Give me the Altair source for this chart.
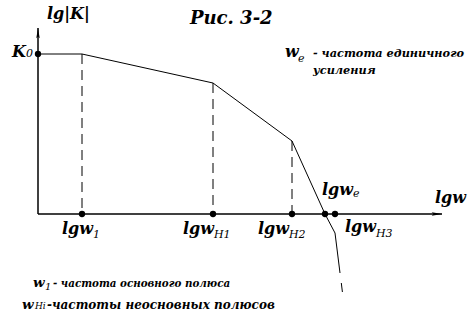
import altair as alt
import pandas as pd

# --- chart values (abstract units: lg w horizontally, lg|K| vertically) ---
curve_x = [0.0, 4.4, 17.5, 25.4, 28.7, 29.7, 30.2]
curve_y = [16.0, 16.0, 13.1, 7.3, 0.0, -1.9, -5.9]
tail_x = [30.33, 30.44]
tail_y = [-6.9, -7.8]
pole_names = ["w1", "wH1", "wH2"]
pole_x = [4.4, 17.5, 25.4]
pole_y = [16.0, 13.1, 7.3]
dot_x = [0.0, 4.4, 17.5, 25.4, 28.7, 29.7]
dot_y = [16.0, 0.0, 0.0, 0.0, 0.0, 0.0]
x_axis_end = 40.4
y_axis_end = 18.6

FONT = "DejaVu Serif"

# text labels: (text, x, y, kind)
labels = [
    ("Рис. 3-2", 15.2, 19.0, "title"),
    ("lg|K|", 0.9, 19.5, "main"),
    ("K", -2.6, 15.7, "main"),
    ("0", -1.2, 15.7, "sub"),
    ("lgw", 2.4, -2.0, "main"),
    ("1", 5.5, -2.4, "sub"),
    ("lgw", 14.5, -2.0, "main"),
    ("H1", 17.6, -2.4, "sub"),
    ("lgw", 22.0, -2.0, "main"),
    ("H2", 25.1, -2.4, "sub"),
    ("lgw", 28.4, 1.9, "main"),
    ("e", 31.5, 1.7, "sub"),
    ("lgw", 30.7, -1.8, "main"),
    ("H3", 33.8, -2.3, "sub"),
    ("lgw", 39.7, 1.1, "main"),
    ("w", 24.7, 15.7, "main"),
    ("e", 26.0, 15.2, "sub"),
    ("- частота единичного", 27.5, 15.7, "note"),
    ("усиления", 27.5, 14.0, "note"),
    ("w", -0.5, -7.3, "wsmall"),
    ("1", 0.7, -7.6, "subs"),
    ("- частота основного полюса", 1.5, -7.3, "notes"),
    ("w", -1.6, -9.5, "wsmall"),
    ("Hi", -0.3, -9.5, "subxs"),
    ("-частоты неосновных  полюсов", 0.9, -9.5, "notel"),
]

curve = pd.DataFrame({"x": curve_x, "y": curve_y, "o": range(len(curve_x))})
tail = pd.DataFrame({"x": tail_x, "y": tail_y, "o": range(len(tail_x))})
poles = pd.DataFrame({"name": pole_names, "x": pole_x, "y": pole_y, "y0": [0.0] * 3})
dots = pd.DataFrame({"x": dot_x, "y": dot_y})
axes = pd.DataFrame({"x": [0.0, 0.0], "y": [0.0, 0.0], "x2": [x_axis_end, 0.0], "y2": [0.0, y_axis_end]})
lab = pd.DataFrame(labels, columns=["text", "x", "y", "kind"])

xs = alt.Scale(domain=[-3.8, 43.0], nice=False, zero=False)
ys = alt.Scale(domain=[-11.9, 21.4], nice=False, zero=False)
X = lambda f="x": alt.X(f"{f}:Q", scale=xs, axis=None)
Y = lambda f="y": alt.Y(f"{f}:Q", scale=ys, axis=None)

axis_lines = alt.Chart(axes).mark_rule(color="black", strokeWidth=1.5).encode(
    x=X(), y=Y(), x2="x2:Q", y2="y2:Q")

arrow_len = 1.2  # units (~12 px)
arrows_up = alt.Chart(pd.DataFrame({"x": [0.0], "y": [y_axis_end - arrow_len / 2]})).mark_point(
    shape="M0,-1 L0.28,0.7 L0,0.4 L-0.28,0.7 Z", filled=True, color="black", opacity=1, size=150
).encode(x=X(), y=Y())
arrows_right = alt.Chart(pd.DataFrame({"x": [x_axis_end - arrow_len / 2], "y": [0.0]})).mark_point(
    shape="M1,0 L-0.7,0.28 L-0.4,0 L-0.7,-0.28 Z", filled=True, color="black", opacity=1, size=150
).encode(x=X(), y=Y())

dashed = alt.Chart(poles).mark_rule(color="black", strokeWidth=1, strokeDash=[10, 6]).encode(
    x=X(), y=Y(), y2="y0:Q")

line = alt.Chart(curve).mark_line(color="black", strokeWidth=1).encode(
    x=X(), y=Y(), order="o:Q")
tail_line = alt.Chart(tail).mark_line(color="black", strokeWidth=1).encode(
    x=X(), y=Y(), order="o:Q")

pts = alt.Chart(dots).mark_circle(color="black", opacity=1, size=40).encode(x=X(), y=Y())

styles = {
    "title": dict(fontSize=18, fontWeight="bold", fontStyle="italic"),
    "main": dict(fontSize=16, fontWeight="bold", fontStyle="italic"),
    "wsmall": dict(fontSize=13.5, fontWeight="bold", fontStyle="italic"),
    "sub": dict(fontSize=11, fontWeight="normal", fontStyle="italic"),
    "subs": dict(fontSize=10, fontWeight="normal", fontStyle="italic"),
    "subxs": dict(fontSize=9, fontWeight="normal", fontStyle="italic"),
    "note": dict(fontSize=11.3, fontWeight="bold", fontStyle="italic"),
    "notes": dict(fontSize=10.3, fontWeight="bold", fontStyle="italic"),
    "notel": dict(fontSize=12.0, fontWeight="bold", fontStyle="italic"),
}
text_layers = []
for kind, st in styles.items():
    sub = lab[lab.kind == kind]
    text_layers.append(
        alt.Chart(sub).mark_text(font=FONT, align="left", baseline="alphabetic", color="black", **st)
        .encode(x=X(), y=Y(), text="text:N")
    )

chart = alt.layer(axis_lines, dashed, line, tail_line, pts, arrows_up, arrows_right, *text_layers).properties(
    width=468, height=333, autosize=alt.AutoSizeParams(type="none"), padding=0,
    background="white"
).configure_view(stroke=None)

chart.save("out.html", embed_options={"renderer": "svg", "actions": False})
